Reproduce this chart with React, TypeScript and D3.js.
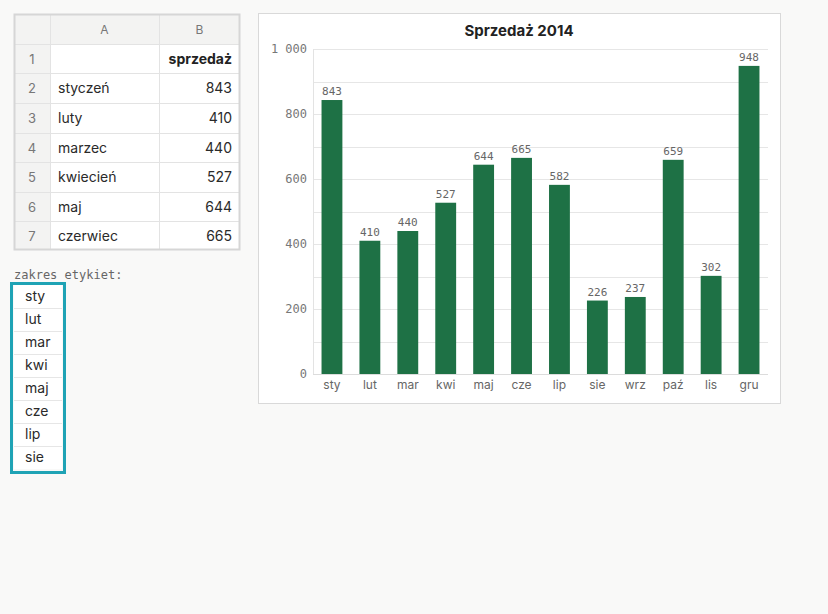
import React from 'react';
import * as d3 from 'd3';

// sheet data
const tableMonths = ['styczeń', 'luty', 'marzec', 'kwiecień', 'maj', 'czerwiec'];
const tableValues = [843, 410, 440, 527, 644, 665];
const labelRange = ['sty', 'lut', 'mar', 'kwi', 'maj', 'cze', 'lip', 'sie'];

// chart data
const categories = ['sty', 'lut', 'mar', 'kwi', 'maj', 'cze', 'lip', 'sie', 'wrz', 'paź', 'lis', 'gru'];
const sales = [843, 410, 440, 527, 644, 665, 582, 226, 237, 659, 302, 948];
const yTicks = [0, 200, 400, 600, 800, 1000];
const yGrid = [100, 200, 300, 400, 500, 600, 700, 800, 900, 1000];

const SANS = 'Inter, "Noto Sans", sans-serif';
const MONO = '"DejaVu Sans Mono", monospace';
const GREEN = '#1e7145';

const Sheet: React.FC = () => {
  const rowY = [14, 44, 73, 103, 133, 162, 192, 221, 250];
  const colX = [14, 50, 159, 240];
  return (
    <g>
      <rect x={colX[0]} y={rowY[0]} width={colX[3] - colX[0]} height={rowY[8] - rowY[0]} fill="#fff" />
      <rect x={colX[0]} y={rowY[0]} width={colX[3] - colX[0]} height={rowY[1] - rowY[0]} fill="#f3f3f2" />
      <rect x={colX[0]} y={rowY[0]} width={colX[1] - colX[0]} height={rowY[8] - rowY[0]} fill="#f3f3f2" />
      {rowY.slice(1, 8).map((y) => (
        <line key={y} x1={colX[0]} x2={colX[3]} y1={y + 0.5} y2={y + 0.5} stroke="#e3e3e3" />
      ))}
      {colX.slice(1, 3).map((x) => (
        <line key={x} x1={x + 0.5} x2={x + 0.5} y1={rowY[0]} y2={rowY[8]} stroke="#e3e3e3" />
      ))}
      <rect x={colX[0] + 0.5} y={rowY[0] + 0.5} width={colX[3] - colX[0] - 1} height={rowY[8] - rowY[0] - 1}
        fill="none" stroke="#d6d6d6" strokeWidth={2} />
      <text x={(colX[1] + colX[2]) / 2} y={34} textAnchor="middle" fontFamily={SANS} fontSize={12} fill="#777">A</text>
      <text x={(colX[2] + colX[3]) / 2} y={34} textAnchor="middle" fontFamily={SANS} fontSize={12} fill="#777">B</text>
      {d3.range(1, 8).map((n, i) => (
        <text key={n} x={32} y={(rowY[i + 1] + rowY[i + 2]) / 2 + 5} textAnchor="middle"
          fontFamily={SANS} fontSize={13} fill="#777">{n}</text>
      ))}
      <text x={232} y={(rowY[1] + rowY[2]) / 2 + 5} textAnchor="end" fontFamily={SANS} fontSize={14}
        fontWeight="bold" fill="#222">sprzedaż</text>
      {tableMonths.map((m, i) => (
        <g key={m}>
          <text x={58} y={(rowY[i + 2] + rowY[i + 3]) / 2 + 5} fontFamily={SANS} fontSize={14} fill="#2a2a2a">{m}</text>
          <text x={232} y={(rowY[i + 2] + rowY[i + 3]) / 2 + 5} textAnchor="end" fontFamily={SANS}
            fontSize={14} fill="#2a2a2a">{tableValues[i]}</text>
        </g>
      ))}
    </g>
  );
};

const LabelRange: React.FC = () => {
  const top = 285;
  const h = 23;
  return (
    <g>
      <text x={14} y={279} fontFamily={MONO} fontSize={12} fill="#666">zakres etykiet:</text>
      <rect x={14} y={top} width={48} height={h * labelRange.length} fill="#fff" />
      {labelRange.map((l, i) => (
        <g key={l}>
          {i > 0 && <line x1={14} x2={62} y1={top + i * h + 0.5} y2={top + i * h + 0.5} stroke="#e6e6e6" />}
          <text x={25} y={top + i * h + 16} fontFamily={SANS} fontSize={14} fill="#2a2a2a">{l}</text>
        </g>
      ))}
      <rect x={11.5} y={283.5} width={53} height={h * labelRange.length + 5} fill="none" stroke="#1fa3b5" strokeWidth={3} />
    </g>
  );
};

const BarChart: React.FC = () => {
  const left = 313;
  const right = 768;
  const top = 49;
  const bottom = 374;
  const x = d3.scaleBand<string>().domain(categories).range([left, right]).paddingInner(0.45).paddingOuter(0.225);
  const y = d3.scaleLinear().domain([0, 1000]).range([bottom, top]);
  const fmt = (v: number) => d3.format(',')(v).replace(',', ' ');
  return (
    <g>
      <rect x={258.5} y={13.5} width={522} height={390} fill="#fff" stroke="#d9d9d9" />
      <text x={519} y={36} textAnchor="middle" fontFamily={SANS} fontSize={15} fontWeight="bold" fill="#222">
        Sprzedaż 2014
      </text>
      {yGrid.map((t) => (
        <line key={t} x1={left} x2={right} y1={Math.round(y(t)) + 0.5} y2={Math.round(y(t)) + 0.5} stroke="#e6e6e6" />
      ))}
      <line x1={left + 0.5} x2={left + 0.5} y1={top} y2={bottom} stroke="#e3e3e3" />
      <line x1={left} x2={right} y1={bottom + 0.5} y2={bottom + 0.5} stroke="#dcdcdc" />
      {yTicks.map((t) => (
        <text key={t} x={307} y={y(t) + 4} textAnchor="end" fontFamily={MONO} fontSize={12} fill="#777">
          {fmt(t)}
        </text>
      ))}
      {categories.map((c, i) => (
        <g key={c}>
          <rect x={x(c)} y={y(sales[i])} width={x.bandwidth()} height={bottom - y(sales[i])} fill={GREEN} />
          <text x={(x(c) ?? 0) + x.bandwidth() / 2} y={y(sales[i]) - 5} textAnchor="middle" fontFamily={MONO}
            fontSize={11} fill="#666">{sales[i]}</text>
          <text x={(x(c) ?? 0) + x.bandwidth() / 2} y={389} textAnchor="middle" fontFamily={SANS}
            fontSize={12} fill="#666">{c}</text>
        </g>
      ))}
    </g>
  );
};

export default function App() {
  return (
    <svg width={828} height={614} style={{ position: 'absolute', left: 0, top: 0, background: '#f9f9f8' }}>
      <Sheet />
      <LabelRange />
      <BarChart />
    </svg>
  );
}
